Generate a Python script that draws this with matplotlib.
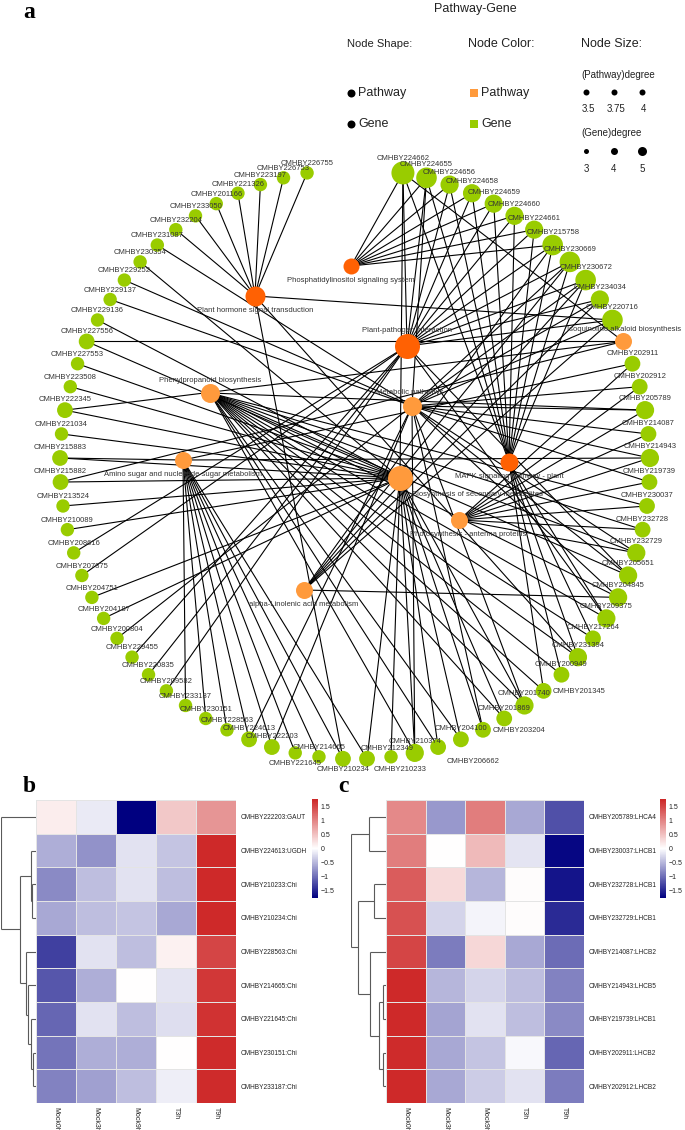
import numpy as np
import matplotlib
matplotlib.use("Agg")
import matplotlib.pyplot as plt
from matplotlib.collections import LineCollection
from matplotlib.colors import LinearSegmentedColormap

plt.rcParams['font.family'] = ['Liberation Sans', 'DejaVu Sans']

W, H = 685, 1130

# ---------------- network data ----------------
PH = "Plant hormone signal transduction"
PI = "Phosphatidylinositol signaling system"
PP = "Plant-pathogen interaction"
MET = "Metabolic pathways"
BS = "Biosynthesis of secondary metabolites"
MAPK = "MAPK signaling pathway - plant"
PHE = "Phenylpropanoid biosynthesis"
AMI = "Amino sugar and nucleotide sugar metabolism"
PHO = "Photosynthesis - antenna proteins"
ALA = "alpha-Linolenic acid metabolism"
ISO = "Isoquinoline alkaloid biosynthesis"

# nodes on the outer circle, clockwise from the top
ring_nodes = [
    "CMHBY224662", "CMHBY224655", "CMHBY224656", "CMHBY224658", "CMHBY224659",
    "CMHBY224660", "CMHBY224661", "CMHBY215758", "CMHBY230669", "CMHBY230672",
    "CMHBY234034", "CMHBY220716", ISO,
    "CMHBY202911", "CMHBY202912", "CMHBY205789", "CMHBY214087", "CMHBY214943",
    "CMHBY219739", "CMHBY230037", "CMHBY232728", "CMHBY232729",
    "CMHBY205651", "CMHBY204845", "CMHBY209375", "CMHBY217264", "CMHBY231394",
    "CMHBY200949", "CMHBY201345", "CMHBY201740", "CMHBY201869", "CMHBY203204",
    "CMHBY204100", "CMHBY206662", "CMHBY210374", "CMHBY212349", "CMHBY210233",
    "CMHBY210234", "CMHBY214665", "CMHBY221645", "CMHBY222203", "CMHBY224613",
    "CMHBY228563", "CMHBY230151", "CMHBY233187",
    "CMHBY209582", "CMHBY220835", "CMHBY229455", "CMHBY200804", "CMHBY204187",
    "CMHBY204751", "CMHBY207875", "CMHBY208616", "CMHBY210089", "CMHBY213524",
    "CMHBY215882", "CMHBY215883", "CMHBY221034", "CMHBY222345", "CMHBY223508",
    "CMHBY227553", "CMHBY227556", "CMHBY229136", "CMHBY229137", "CMHBY229252",
    "CMHBY230354", "CMHBY231087",
    "CMHBY232204", "CMHBY233050", "CMHBY201166", "CMHBY221326", "CMHBY223197",
    "CMHBY226753", "CMHBY226755",
]

pathway_genes = {
    PH: ["CMHBY226755", "CMHBY226753", "CMHBY223197", "CMHBY221326", "CMHBY201166",
         "CMHBY233050", "CMHBY232204", "CMHBY220716", "CMHBY231394", "CMHBY210234"],
    PI: ["CMHBY224662", "CMHBY224655", "CMHBY224656", "CMHBY224658", "CMHBY224659",
         "CMHBY224660", "CMHBY224661", "CMHBY215758"],
    PP: ["CMHBY224662", "CMHBY224655", "CMHBY224656", "CMHBY224658", "CMHBY224659",
         "CMHBY224660", "CMHBY224661", "CMHBY215758", "CMHBY230669", "CMHBY230672",
         "CMHBY234034", "CMHBY220716", "CMHBY205651", "CMHBY209375", "CMHBY229455",
         "CMHBY220835", "CMHBY209582", "CMHBY208616", "CMHBY207875"],
    MAPK: ["CMHBY224662", "CMHBY224655", "CMHBY224656", "CMHBY224658", "CMHBY224659",
           "CMHBY224660", "CMHBY224661", "CMHBY215758", "CMHBY230669", "CMHBY230672",
           "CMHBY209375", "CMHBY217264", "CMHBY231394", "CMHBY200949", "CMHBY201345"],
    MET: ["CMHBY229252", "CMHBY229137", "CMHBY231087", "CMHBY200804", "CMHBY224655",
          "CMHBY230669", "CMHBY230672", "CMHBY234034", "CMHBY220716", "CMHBY202912",
          "CMHBY205789", "CMHBY214087", "CMHBY214943", "CMHBY219739", "CMHBY232729",
          "CMHBY205651", "CMHBY204845", "CMHBY224613", "CMHBY222203", "CMHBY201740",
          "CMHBY203204", "CMHBY210374"],
    BS: ["CMHBY230354", "CMHBY229136", "CMHBY227556", "CMHBY227553", "CMHBY223508",
         "CMHBY222345", "CMHBY221034", "CMHBY215883", "CMHBY215882", "CMHBY213524",
         "CMHBY210089", "CMHBY204751", "CMHBY204187", "CMHBY224662", "CMHBY201740",
         "CMHBY201869", "CMHBY203204", "CMHBY204100", "CMHBY206662", "CMHBY210374",
         "CMHBY212349", "CMHBY210233"],
    PHE: ["CMHBY205789", "CMHBY230037", "CMHBY232728", "CMHBY232729", "CMHBY205651",
          "CMHBY204845", "CMHBY209375", "CMHBY217264", "CMHBY231394", "CMHBY200949",
          "CMHBY201345", "CMHBY201740", "CMHBY201869", "CMHBY204100", "CMHBY206662",
          "CMHBY210374"],
    AMI: ["CMHBY215883", "CMHBY233187", "CMHBY230151", "CMHBY228563", "CMHBY224613",
          "CMHBY222203", "CMHBY221645", "CMHBY214665", "CMHBY210234", "CMHBY210233",
          "CMHBY214943", "CMHBY202911"],
    PHO: ["CMHBY202911", "CMHBY202912", "CMHBY205789", "CMHBY214087", "CMHBY214943",
          "CMHBY219739", "CMHBY230037", "CMHBY232728", "CMHBY232729"],
    ALA: ["CMHBY230669", "CMHBY230672", "CMHBY234034", "CMHBY220716", "CMHBY215758",
          "CMHBY204845"],
    ISO: ["CMHBY227556", "CMHBY222345", "CMHBY215882", "CMHBY224662"],
}

# ---------------- heatmap data ----------------
hm_cols = ["Mock0h", "Mock3h", "Mock9h", "T3h", "T9h"]

b_rows = ["CMHBY222203:GAUT", "CMHBY224613:UGDH", "CMHBY210233:Chi", "CMHBY210234:Chi",
          "CMHBY228563:Chi", "CMHBY214665:Chi", "CMHBY221645:Chi", "CMHBY230151:Chi",
          "CMHBY233187:Chi"]
b_vals = [
    [0.15, -0.15, -1.75, 0.45, 0.85],
    [-0.55, -0.75, -0.2, -0.4, 1.72],
    [-0.8, -0.45, -0.2, -0.45, 1.72],
    [-0.6, -0.45, -0.4, -0.6, 1.72],
    [-1.3, -0.2, -0.45, 0.12, 1.5],
    [-1.15, -0.55, 0.0, -0.18, 1.6],
    [-1.05, -0.2, -0.45, -0.22, 1.65],
    [-0.95, -0.55, -0.55, 0.0, 1.7],
    [-0.85, -0.65, -0.45, -0.12, 1.7],
]
# merges: (child a, child b, height); ids >= n refer to earlier merges
b_link = [(2, 3, 0.11), (1, 9, 0.14), (7, 8, 0.08), (6, 11, 0.15), (5, 12, 0.22),
          (4, 13, 0.29), (10, 14, 0.45), (0, 15, 1.0)]

c_rows = ["CMHBY205789:LHCA4", "CMHBY230037:LHCB1", "CMHBY232728:LHCB1", "CMHBY232729:LHCB1",
          "CMHBY214087:LHCB2", "CMHBY214943:LHCB5", "CMHBY219739:LHCB1", "CMHBY202911:LHCB2",
          "CMHBY202912:LHCB2"]
c_vals = [
    [0.95, -0.7, 1.05, -0.6, -1.2],
    [1.05, 0.0, 0.55, -0.18, -1.7],
    [1.3, 0.3, -0.5, 0.02, -1.6],
    [1.4, -0.3, -0.07, 0.02, -1.45],
    [1.5, -0.9, 0.32, -0.6, -1.0],
    [1.72, -0.5, -0.3, -0.45, -0.85],
    [1.72, -0.62, -0.2, -0.45, -0.8],
    [1.7, -0.6, -0.4, -0.05, -1.05],
    [1.72, -0.6, -0.35, -0.2, -0.9],
]
c_link = [(0, 1, 0.50), (2, 3, 0.33), (5, 6, 0.08), (7, 8, 0.08), (11, 12, 0.19),
          (4, 13, 0.46), (10, 14, 0.79), (9, 15, 1.0)]

# ---------------- layout / style ----------------
CX, CY, R, N_SLOTS = 355, 464, 295, 77
# inner pathway nodes: position (px), radius (px), colour, label offset
pw_layout = {
    PH: ((255, 296), 10, "#FF6103", (0, 14)),
    PI: ((351, 266), 8, "#FF6103", (0, 14)),
    PP: ((407, 346), 12.5, "#FF6103", (0, -15)),
    MET: ((412, 406), 9.5, "#FF9A3C", (-2, -13)),
    BS: ((400, 478), 12.5, "#FF9A3C", (78, 17)),
    MAPK: ((509, 462), 9, "#FF6103", (0, 14)),
    PHE: ((210, 393), 9.5, "#FF9A3C", (0, -12)),
    AMI: ((183, 460), 8.5, "#FF9A3C", (0, 14)),
    PHO: ((459, 520), 8.5, "#FF9A3C", (9, 14)),
    ALA: ((304, 590), 8.5, "#FF9A3C", (0, 14)),
    ISO: (None, 8.5, "#FF9A3C", (1, -12)),
}
label_shift = {"CMHBY221645": (0, 11), "CMHBY210234": (0, 11), "CMHBY210233": (33, 11),
               "CMHBY206662": (35, 14), "CMHBY203204": (36, 1), "CMHBY201345": (35, 1),
               "CMHBY212349": (-4, -8)}
GREEN = "#99CC00"
PX = 0.72  # points per pixel at dpi 100

fig = plt.figure(figsize=(W / 100, H / 100), dpi=100)
ax = fig.add_axes([0, 0, 1, 1])
ax.set_xlim(0, W)
ax.set_ylim(H, 0)
ax.axis("off")

# circle layout
pos = {}
for i, name in enumerate(ring_nodes):
    ang = np.deg2rad((i + 2) * 360.0 / N_SLOTS)
    pos[name] = (CX + R * np.sin(ang), CY - R * np.cos(ang))
for pw, (p, r, c, off) in pw_layout.items():
    if p is not None:
        pos[pw] = p

# edges
segs = []
degree = {}
for pw, genes in pathway_genes.items():
    for g in genes:
        segs.append([pos[pw], pos[g]])
        degree[g] = degree.get(g, 0) + 1
ax.add_collection(LineCollection(segs, colors="black", linewidths=0.8, zorder=1))

# gene nodes
genes = [n for n in ring_nodes if n not in pw_layout]
gx = [pos[g][0] for g in genes]
gy = [pos[g][1] for g in genes]
gr = [5.5 + 1.2 * degree.get(g, 1) for g in genes]
ax.scatter(gx, gy, s=[(2 * r * PX) ** 2 for r in gr], c=GREEN, linewidths=0, zorder=2)
for g, x, y, r in zip(genes, gx, gy, gr):
    dx, dy = label_shift.get(g, (0, -(r + 2.5)))
    ax.text(x + dx, y + dy, g, fontsize=5.5, color="#333333", ha="center", va="center", zorder=4)

# pathway nodes
for pw, (p, r, c, off) in pw_layout.items():
    x, y = pos[pw]
    ax.scatter([x], [y], s=(2 * r * PX) ** 2, c=c, linewidths=0, zorder=3)
    ax.text(x + off[0], y + off[1], pw, fontsize=5.5, color="#333333", ha="center",
            va="center", zorder=4)

# legend
ax.text(29, 12, "a", fontsize=17, fontweight="bold", family="Liberation Serif",
        ha="center", va="center")
ax.text(475, 9, "Pathway-Gene", fontsize=9, ha="center", va="center", color="#222222")
ax.text(380, 44, "Node Shape:", fontsize=8, ha="center", va="center", color="#222222")
ax.text(501, 44, "Node Color:", fontsize=9, ha="center", va="center", color="#222222")
ax.text(612, 44, "Node Size:", fontsize=9, ha="center", va="center", color="#222222")
for lab, yy, col in [("Pathway", 93, "#FF9A3C"), ("Gene", 124, GREEN)]:
    ax.scatter([351], [yy], s=(8 * PX) ** 2, c="black", linewidths=0)
    ax.text(358, yy, lab, fontsize=9, ha="left", va="center", color="#222222")
    ax.scatter([474], [yy], s=(8 * PX) ** 2, c=col, marker="s", linewidths=0)
    ax.text(481, yy, lab, fontsize=9, ha="left", va="center", color="#222222")
ax.text(581, 75, "(Pathway)degree", fontsize=7, ha="left", va="center", color="#222222")
ax.text(581, 133, "(Gene)degree", fontsize=7, ha="left", va="center", color="#222222")
for xx, lab, rr in zip([586, 614, 642], ["3.5", "3.75", "4"], [3, 3, 3]):
    ax.scatter([xx], [92], s=(2 * rr * PX) ** 2, c="black", linewidths=0)
    ax.text(xx + 2, 109, lab, fontsize=7, ha="center", va="center", color="#222222")
for xx, lab, rr in zip([586, 614, 642], ["3", "4", "5"], [2.5, 3.5, 4.5]):
    ax.scatter([xx], [151], s=(2 * rr * PX) ** 2, c="black", linewidths=0)
    ax.text(xx, 169, lab, fontsize=7, ha="center", va="center", color="#222222")

# ---------------- heatmaps ----------------
cmap = LinearSegmentedColormap.from_list("nwf", ["#000080", "#ffffff", "#CD2626"])
VMIN, VMAX = -1.75, 1.75


def px_axes(x0, y0, x1, y1):
    return fig.add_axes([x0 / W, 1 - y1 / H, (x1 - x0) / W, (y1 - y0) / H])


def draw_dendro(dax, link, n):
    ypos = {i: i + 0.5 for i in range(n)}
    hts = {i: 0.0 for i in range(n)}
    lines = []
    for k, (a, b, h) in enumerate(link):
        ya, yb = ypos[a], ypos[b]
        lines += [[(hts[a], ya), (h, ya)], [(hts[b], yb), (h, yb)], [(h, ya), (h, yb)]]
        ypos[n + k] = (ya + yb) / 2
        hts[n + k] = h
    dax.add_collection(LineCollection(lines, colors="#5a5a5a", linewidths=0.8))
    dax.set_xlim(1.0, 0)
    dax.set_ylim(n, 0)
    dax.axis("off")


def draw_heatmap(box, cb_box, vals, rows):
    vals = np.array(vals)
    hax = px_axes(*box)
    hax.pcolormesh(np.arange(vals.shape[1] + 1), np.arange(vals.shape[0] + 1), vals,
                   cmap=cmap, vmin=VMIN, vmax=VMAX, edgecolors="#e4e4e4", linewidth=0.6)
    hax.set_ylim(vals.shape[0], 0)
    hax.set_yticks(np.arange(len(rows)) + 0.5)
    hax.set_yticklabels(rows, fontsize=4.7, color="#222222")
    hax.yaxis.tick_right()
    hax.set_xticks(np.arange(len(hm_cols)) + 0.5)
    hax.set_xticklabels(hm_cols, fontsize=5, rotation=270, va="top", color="#222222")
    hax.tick_params(length=0, pad=3)
    for s in hax.spines.values():
        s.set_visible(False)
    cax = px_axes(*cb_box)
    grad = np.linspace(VMIN, VMAX, 256)
    cax.pcolormesh([0, 1], np.linspace(VMIN, VMAX, 257), grad[:, None], cmap=cmap,
                   vmin=VMIN, vmax=VMAX)
    cax.set_ylim(VMIN, VMAX)
    ticks = [1.5, 1, 0.5, 0, -0.5, -1, -1.5]
    cax.set_yticks(ticks)
    cax.set_yticklabels([("%g" % t).replace("-", "\u2212") for t in ticks], fontsize=5,
                        color="#222222")
    cax.yaxis.tick_right()
    cax.set_xticks([])
    cax.tick_params(length=0, pad=2)
    for s in cax.spines.values():
        s.set_visible(False)
    return hax


draw_heatmap((36, 800, 236, 1103), (312, 799, 318, 898), b_vals, b_rows)
draw_dendro(px_axes(1, 800, 36, 1103), b_link, len(b_rows))
draw_heatmap((386, 800, 584, 1103), (660, 799, 666, 898), c_vals, c_rows)
draw_dendro(px_axes(351, 800, 386, 1103), c_link, len(c_rows))

ax.text(29, 787, "b", fontsize=17, fontweight="bold", family="Liberation Serif",
        ha="center", va="center")
ax.text(343, 787, "c", fontsize=17, fontweight="bold", family="Liberation Serif",
        ha="center", va="center")

fig.savefig("out.png", dpi=100)
